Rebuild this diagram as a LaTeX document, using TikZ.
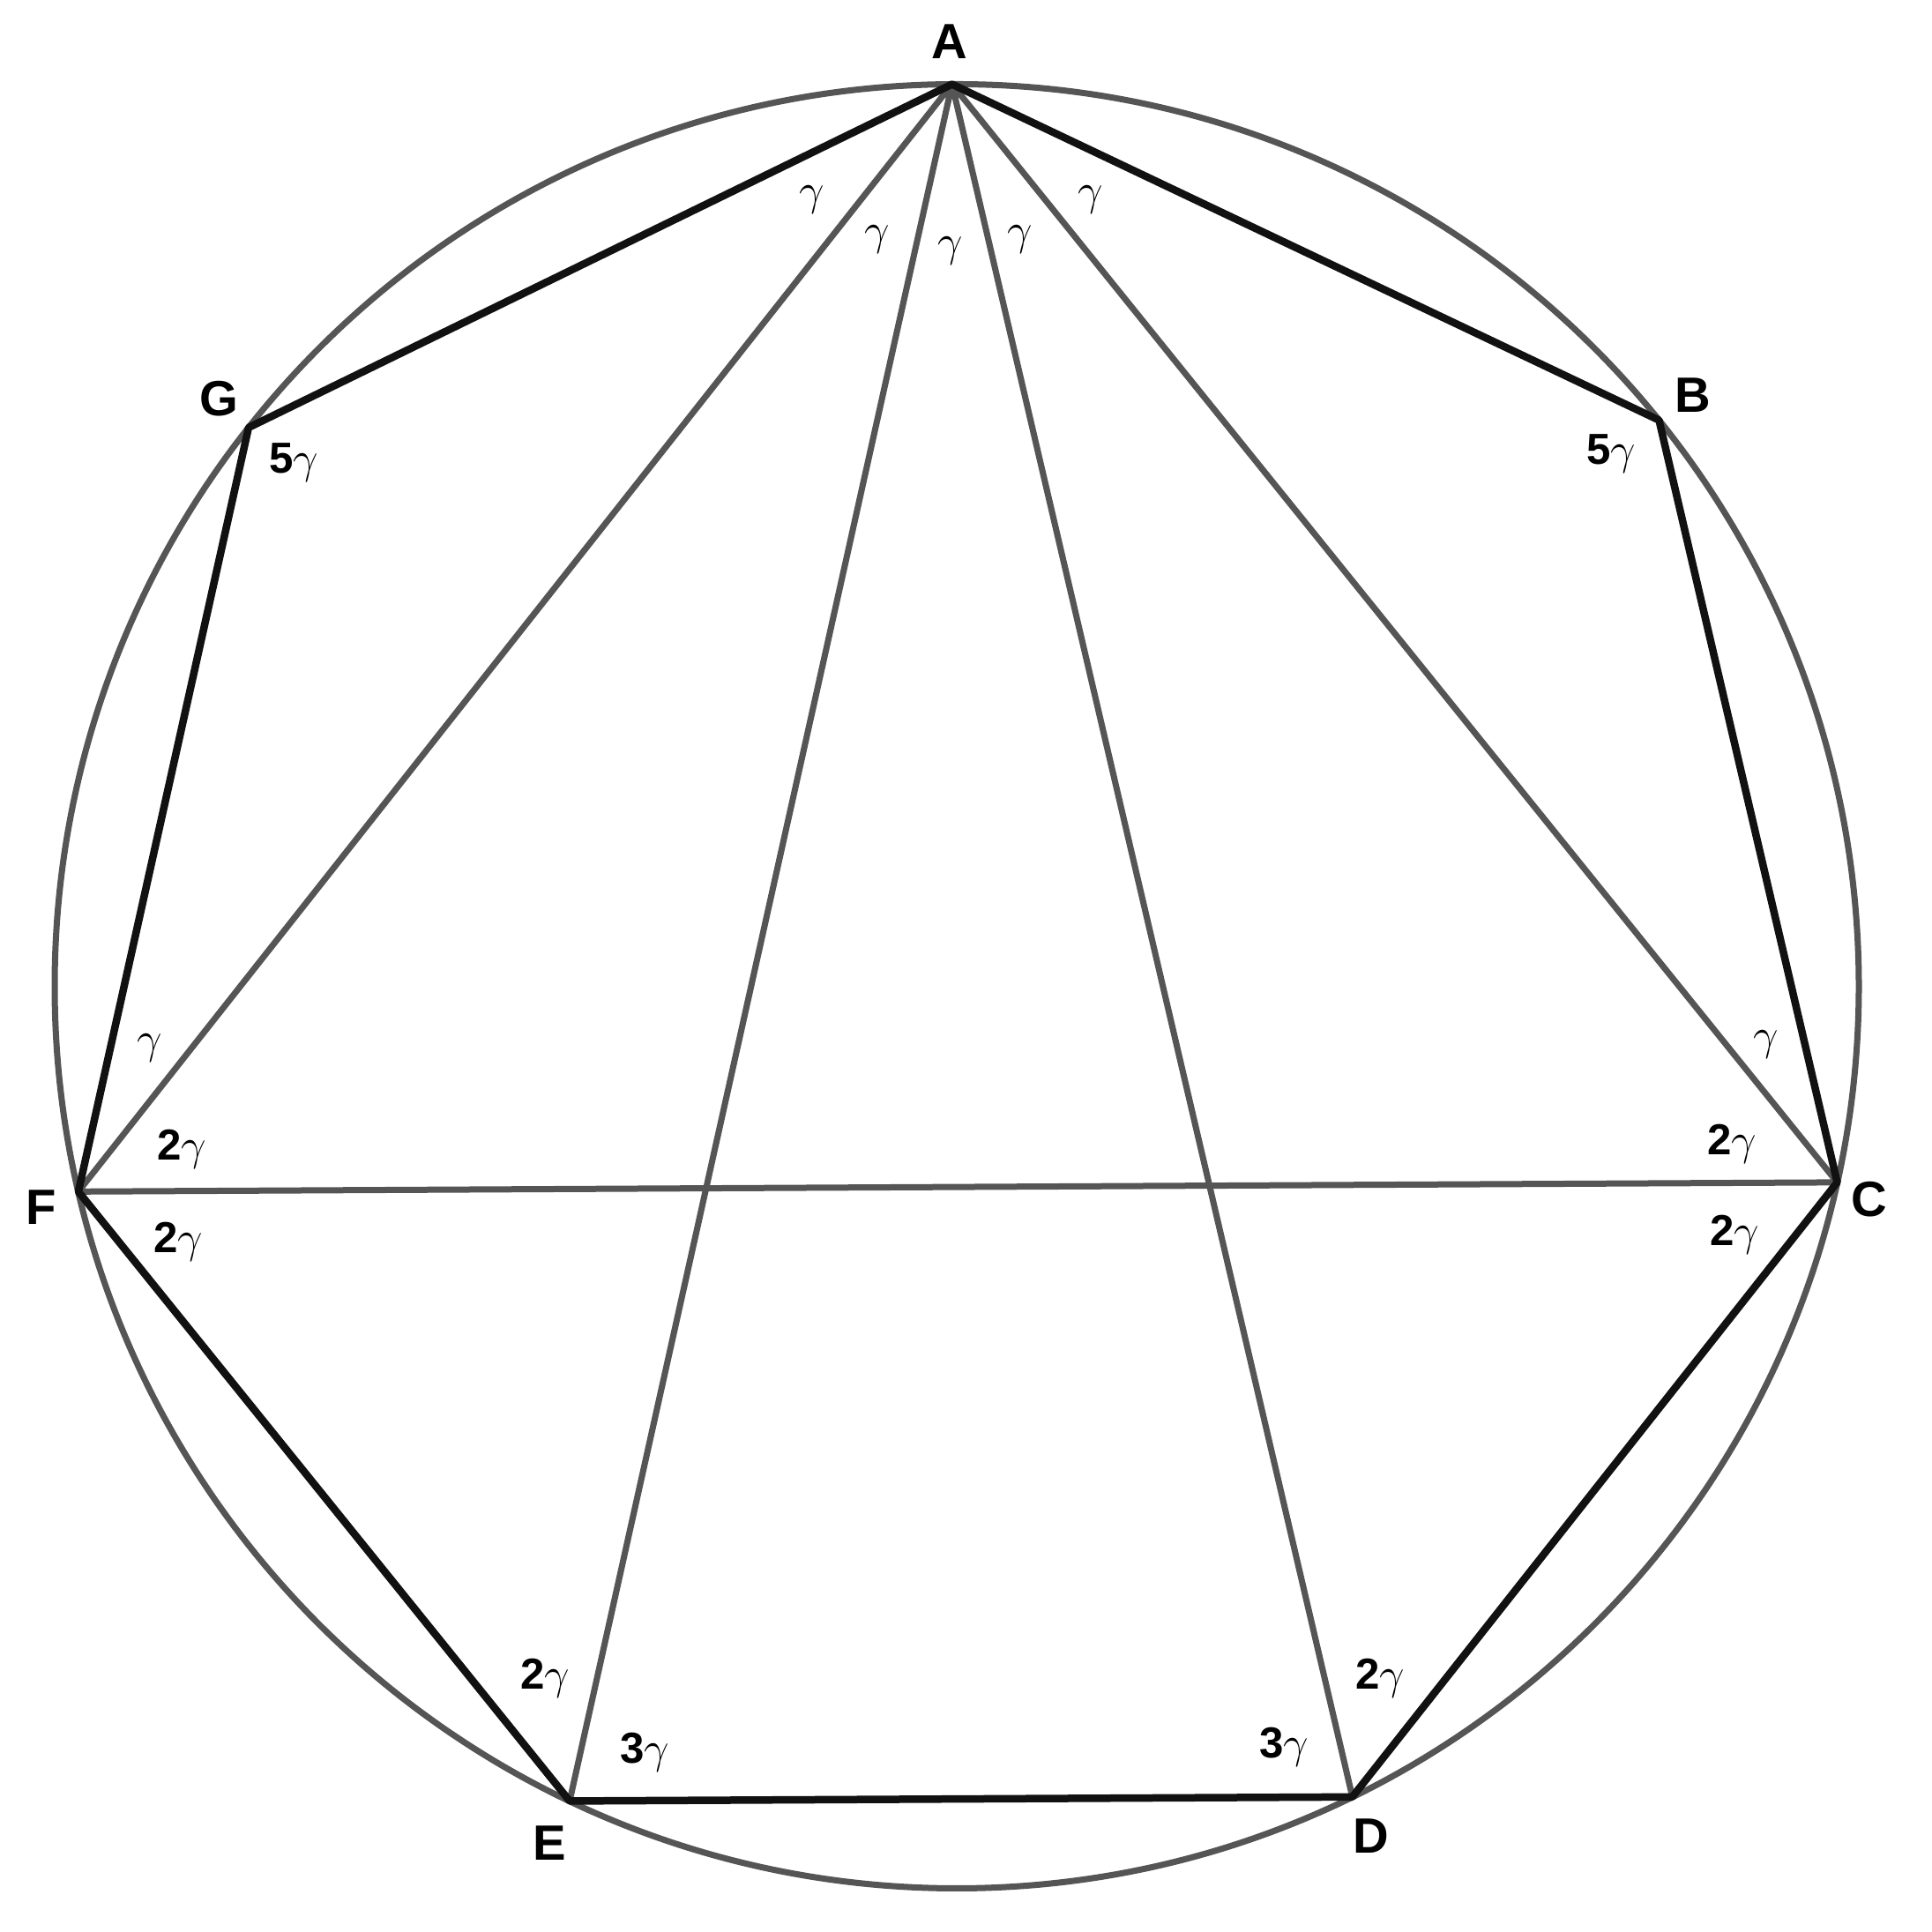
\documentclass[tikz,border=0pt]{standalone}
\usepackage{fontspec}
\setmainfont{Liberation Sans}
\usepackage{amsmath}
\definecolor{linegray}{HTML}{555555}
\definecolor{sideblack}{HTML}{111111}

\begin{document}
\begin{tikzpicture}[line join=round,
        side/.style={draw=sideblack,line width=0.85mm},
        chord/.style={draw=linegray,line width=0.7mm},
        vertex/.style={font=\fontsize{16}{16}\selectfont\bfseries,inner sep=0pt},
        angle/.style={font=\fontsize{14}{14}\selectfont\bfseries,inner sep=0pt}]
            \useasboundingbox (0,0) rectangle (21.91,21.91);
            \coordinate (O) at (10.85,10.725);
            \foreach \n [count=\k from 0] in {A,B,C,D,E,F,G}
                \coordinate (\n) at ({10.85+10.23*cos(90.3-\k*360/7)},{10.725+10.23*sin(90.3-\k*360/7)});

            % circumcircle
            \draw [chord] (O) circle (10.23);

            % diagonals
            \path [chord] (A) -- (F) (A) -- (E) (A) -- (D) (A) -- (C) (F) -- (C);

            % sides of the heptagon
            \path [side] (A) -- (B) -- (C) -- (D) -- (E) -- (F) -- (G) -- cycle;

            % vertex names
            \node   [vertex]    at (10.77,21.44)    (lA) {A};
            \node   [vertex]    at (19.20,17.43)    (lB) {B};
            \node   [vertex]    at (21.20,8.31)     (lC) {C};
            \node   [vertex]    at (15.55,1.09)     (lD) {D};
            \node   [vertex]    at (6.23,1.01)      (lE) {E};
            \node   [vertex]    at (0.47,8.22)      (lF) {F};
            \node   [vertex]    at (2.48,17.39)     (lG) {G};

            % angles at A
            \node   [angle]     at (9.21,19.64)     (a1) {$\gamma$};
            \node   [angle]     at (9.95,19.19)     (a2) {$\gamma$};
            \node   [angle]     at (10.78,19.06)    (a3) {$\gamma$};
            \node   [angle]     at (11.57,19.19)    (a4) {$\gamma$};
            \node   [angle]     at (12.37,19.64)    (a5) {$\gamma$};

            % angles at the other vertices
            \node   [angle]     at (18.27,16.76)    (b1) {5$\gamma$};
            \node   [angle]     at (20.03,10.06)    (c1) {$\gamma$};
            \node   [angle]     at (19.64,8.94)     (c2) {2$\gamma$};
            \node   [angle]     at (19.67,7.91)     (c3) {2$\gamma$};
            \node   [angle]     at (15.65,2.88)     (d1) {2$\gamma$};
            \node   [angle]     at (14.56,2.10)     (d2) {3$\gamma$};
            \node   [angle]     at (6.18,2.88)      (e1) {2$\gamma$};
            \node   [angle]     at (7.31,2.04)      (e2) {3$\gamma$};
            \node   [angle]     at (1.70,10.02)     (f1) {$\gamma$};
            \node   [angle]     at (2.06,8.88)      (f2) {2$\gamma$};
            \node   [angle]     at (2.02,7.83)      (f3) {2$\gamma$};
            \node   [angle]     at (3.33,16.66)     (g1) {5$\gamma$};
        \end{tikzpicture}
\end{document}
